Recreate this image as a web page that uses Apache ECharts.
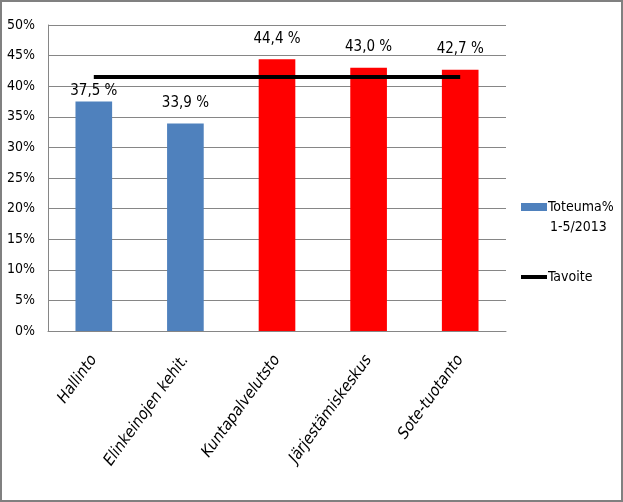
<!DOCTYPE html>
<html>
<head>
<meta charset="utf-8">
<script src="https://cdn.jsdelivr.net/npm/echarts@6/dist/echarts.min.js"></script>
<style>
html,body{margin:0;padding:0;background:#fff;}
#chart{width:623px;height:502px;}
</style>
</head>
<body>
<div id="chart"></div>
<script>
var categories = ['Hallinto', 'Elinkeinojen kehit.', 'Kuntapalvelutsto', 'Järjestämiskeskus', 'Sote-tuotanto'];
var toteuma = [37.5, 33.9, 44.4, 43.0, 42.7];
var tavoite = [41.5, 41.5, 41.5, 41.5, 41.5];
var barColors = ['#4F81BD', '#4F81BD', '#FF0000', '#FF0000', '#FF0000'];
var labelGaps = [3, 13, 13, 13, 13];
var yTicks = { min: 0, max: 50, interval: 5 };

var FONT = '"Liberation Sans Narrow", "DejaVu Sans Condensed", "Liberation Sans", sans-serif';
var chart = echarts.init(document.getElementById('chart'), null, { renderer: 'canvas' });

var barData = toteuma.map(function (v, i) {
  return {
    value: v,
    itemStyle: { color: barColors[i] },
    label: { distance: labelGaps[i] }
  };
});

chart.setOption({
  animation: false,
  backgroundColor: '#fff',
  textStyle: { fontFamily: FONT },
  graphic: [
    { type: 'rect', x: 0, y: 0, shape: { x: 1, y: 1, width: 621, height: 500 }, style: { fill: 'none', stroke: '#808080', lineWidth: 2 }, z: 100 },
    { type: 'text', left: 550, top: 220, style: { text: '1-5/2013', font: '14px ' + FONT, fill: '#000' } }
  ],
  grid: { left: 48, right: 117, top: 25, bottom: 171, containLabel: false },
  legend: {
    orient: 'vertical',
    left: 516,
    top: 195,
    itemWidth: 26,
    itemHeight: 8,
    itemGap: 56,
    textStyle: { fontFamily: FONT, fontSize: 14, color: '#000', padding: [0, 0, 0, -4] },
    data: [
      { name: 'Toteuma%', icon: 'rect' },
      { name: 'Tavoite', icon: 'path://M0,0H26V4H0Z', itemStyle: { color: '#000' } }
    ]
  },
  xAxis: {
    type: 'category',
    data: categories,
    axisLine: { lineStyle: { color: '#868686', width: 1 } },
    axisTick: { show: false },
    axisLabel: {
      rotate: 54,
      interval: 0,
      margin: 26,
      fontSize: 16,
      fontStyle: 'italic',
      color: '#000',
      fontFamily: FONT
    }
  },
  yAxis: {
    type: 'value',
    min: yTicks.min,
    max: yTicks.max,
    interval: yTicks.interval,
    axisLine: { show: true, lineStyle: { color: '#868686', width: 1 } },
    axisTick: { show: false },
    splitLine: { lineStyle: { color: '#868686', width: 1 } },
    axisLabel: {
      formatter: '{value}%',
      margin: 13,
      fontSize: 14,
      color: '#000',
      fontFamily: FONT
    }
  },
  series: [
    {
      name: 'Toteuma%',
      type: 'bar',
      data: barData,
      barWidth: '40%',
      itemStyle: { color: '#4F81BD' },
      label: {
        show: true,
        position: 'top',
        fontSize: 15,
        color: '#000',
        fontFamily: FONT,
        formatter: function (p) { return p.value.toFixed(1).replace('.', ',') + ' %'; }
      }
    },
    {
      name: 'Tavoite',
      type: 'line',
      data: tavoite,
      symbol: 'none',
      lineStyle: { color: '#000', width: 4 },
      itemStyle: { color: '#000' },
      z: 5
    }
  ]
});
</script>
</body>
</html>
